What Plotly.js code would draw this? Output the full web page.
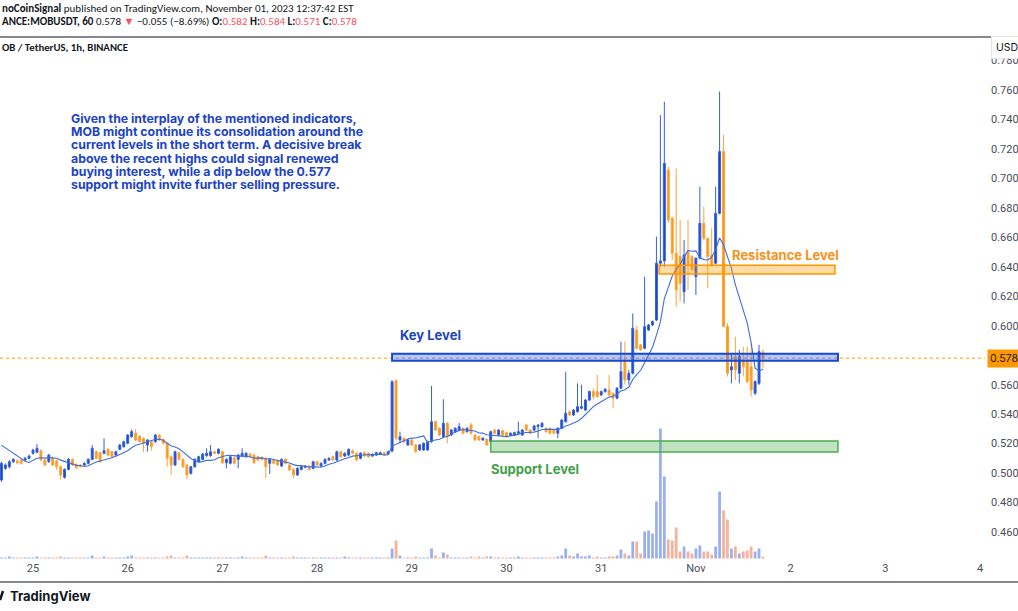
<!DOCTYPE html>
<html><head><meta charset="utf-8">
<script src="https://cdn.plot.ly/plotly-3.0.1.min.js"></script>
<style>html,body{margin:0;padding:0;background:#fff;overflow:hidden}#chart{width:1018px;height:611px}</style>
</head><body><div id="chart"></div>
<script>
// ---------------- DATA ----------------
const startTime = '2023-10-24T16:00:00Z'; // first hourly candle (UTC)
const opens = [
.4953,.5032,.5043,.5077,.5084,.5089,.5089,.5100,.5134,.5141,.5152,.5089,.5077,.5100,.5084,.5043,.4971,.5025,.5093,.5059,
.5055,.5055,.5066,.5093,.5145,.5138,.5134,.5161,.5145,.5122,.5161,.5179,.5202,.5247,.5270,.5251,.5236,.5190,.5213,.5213,
.5258,.5229,.5202,.5111,.5055,.5138,.5093,.5055,.4998,.5043,.5077,.5093,.5118,.5118,.5145,.5134,.5145,.5070,.5066,.5104,
.5093,.5116,.5111,.5129,.5122,.5111,.5107,.5100,.5066,.5089,.5084,.5048,.5093,.5055,.5025,.4987,.5025,.5039,.5048,.5032,
.5077,.5048,.5066,.5089,.5111,.5089,.5145,.5116,.5122,.5152,.5134,.5100,.5138,.5134,.5116,.5122,.5129,.5138,.5129,.5150,
.5627,.5225,.5236,.5191,.5225,.5191,.5157,.5157,.5157,.5213,.5349,.5304,.5247,.5338,.5258,.5281,.5292,.5304,.5281,.5326,
.5258,.5247,.5225,.5229,.5213,.5292,.5258,.5288,.5274,.5258,.5258,.5270,.5258,.5326,.5292,.5292,.5315,.5315,.5304,.5304,
.5292,.5270,.5304,.5349,.5417,.5394,.5417,.5440,.5428,.5496,.5553,.5553,.5530,.5553,.5564,.5541,.5508,.5576,.5756,.5632,
.5677,.5971,.5870,.5847,.5971,.6005,.6039,.6424,.6440,.7057,.6729,.6492,.6469,.6231,.6503,.6469,.6333,.6458,.6695,.6593,
.6480,.6424,.6763,.7182,.5994,.5700,.5790,.5677,.5768,.5756,.5722,.5542,.5609,.5820];
const highs = [
.5077,.5066,.5088,.5102,.5093,.5098,.5109,.5125,.5165,.5197,.5161,.5095,.5131,.5113,.5091,.5052,.5032,.5102,.5100,.5066,
.5062,.5073,.5100,.5190,.5154,.5145,.5236,.5170,.5152,.5152,.5197,.5220,.5265,.5297,.5297,.5258,.5242,.5231,.5220,.5265,
.5265,.5236,.5209,.5118,.5152,.5145,.5100,.5062,.5050,.5100,.5118,.5136,.5168,.5190,.5152,.5168,.5152,.5100,.5118,.5111,
.5129,.5168,.5141,.5136,.5129,.5118,.5113,.5107,.5100,.5096,.5091,.5100,.5100,.5062,.5032,.5039,.5050,.5055,.5055,.5084,
.5084,.5073,.5100,.5107,.5118,.5152,.5152,.5141,.5168,.5159,.5141,.5141,.5145,.5141,.5134,.5145,.5145,.5145,.5152,.5630,
.5635,.5281,.5245,.5232,.5232,.5198,.5198,.5209,.5220,.5591,.5356,.5311,.5501,.5345,.5299,.5311,.5340,.5311,.5311,.5340,
.5265,.5254,.5243,.5236,.5288,.5299,.5299,.5295,.5281,.5277,.5281,.5349,.5299,.5333,.5299,.5327,.5333,.5345,.5311,.5311,
.5299,.5311,.5367,.5688,.5424,.5435,.5609,.5600,.5503,.5560,.5575,.5666,.5560,.5576,.5666,.5548,.5583,.5892,.5892,.5700,
.6084,.6000,.5877,.6333,.6012,.6035,.6605,.7430,.7521,.7080,.6740,.7068,.6718,.6582,.6718,.6480,.6465,.6944,.6808,.6600,
.6661,.6944,.7589,.7295,.6017,.5802,.5926,.5836,.5858,.5858,.5881,.5630,.5870,.5840];
const lows = [
.4940,.5021,.5032,.5068,.5062,.5057,.5080,.5093,.5125,.5134,.5082,.5048,.5070,.5048,.5021,.4957,.4962,.5018,.5048,.5030,
.5036,.5048,.5059,.5086,.5093,.5070,.5127,.5113,.5104,.5116,.5154,.5172,.5195,.5240,.5217,.5206,.5145,.5145,.5152,.5206,
.5217,.5195,.5043,.4987,.5048,.5086,.5036,.4957,.4991,.5036,.5070,.5086,.5111,.5111,.5127,.5127,.5062,.5032,.5059,.5059,
.5032,.5109,.5104,.5104,.5062,.5082,.5086,.4964,.4994,.5059,.5048,.5041,.5059,.5014,.4964,.4980,.5018,.5032,.5018,.5025,
.5048,.5041,.5059,.5082,.5082,.5082,.5104,.5109,.5116,.5127,.5082,.5093,.5109,.5104,.5109,.5116,.5122,.5116,.5122,.5140,
.5220,.5202,.5200,.5184,.5184,.5138,.5150,.5150,.5150,.5206,.5285,.5251,.5240,.5202,.5251,.5274,.5285,.5263,.5274,.5263,
.5218,.5218,.5218,.5184,.5206,.5263,.5251,.5251,.5240,.5251,.5251,.5263,.5251,.5285,.5263,.5285,.5236,.5308,.5274,.5263,
.5263,.5236,.5297,.5342,.5387,.5387,.5410,.5433,.5421,.5489,.5500,.5512,.5523,.5546,.5523,.5440,.5501,.5569,.5600,.5600,
.5670,.5840,.5829,.5840,.5964,.5998,.6032,.6400,.6400,.6700,.6446,.6130,.6164,.6152,.6243,.6370,.6209,.6451,.6580,.6254,
.6400,.6417,.6756,.5990,.5655,.5609,.5632,.5609,.5655,.5609,.5519,.5530,.5598,.5710];
const closes = [
.5066,.5055,.5077,.5093,.5070,.5066,.5100,.5116,.5156,.5168,.5089,.5055,.5122,.5055,.5043,.4987,.5025,.5093,.5055,.5037,
.5043,.5066,.5093,.5168,.5100,.5077,.5152,.5122,.5111,.5145,.5190,.5213,.5258,.5281,.5224,.5213,.5202,.5224,.5179,.5258,
.5224,.5202,.5100,.5055,.5145,.5093,.5043,.4987,.5043,.5093,.5111,.5129,.5134,.5145,.5134,.5161,.5070,.5093,.5111,.5066,
.5122,.5134,.5134,.5111,.5070,.5089,.5093,.5043,.5093,.5066,.5055,.5093,.5066,.5021,.4987,.5032,.5043,.5048,.5025,.5077,
.5055,.5066,.5093,.5100,.5089,.5145,.5111,.5134,.5161,.5134,.5089,.5134,.5116,.5111,.5127,.5138,.5138,.5122,.5145,.5620,
.5236,.5247,.5213,.5225,.5191,.5145,.5191,.5202,.5213,.5349,.5292,.5258,.5338,.5247,.5292,.5304,.5315,.5270,.5304,.5270,
.5225,.5225,.5236,.5191,.5281,.5270,.5292,.5258,.5247,.5270,.5274,.5281,.5292,.5292,.5270,.5320,.5326,.5338,.5281,.5270,
.5270,.5304,.5360,.5406,.5394,.5428,.5451,.5451,.5496,.5553,.5519,.5519,.5553,.5569,.5530,.5508,.5576,.5689,.5632,.5677,
.5983,.5847,.5836,.5994,.6005,.6028,.6424,.6440,.7102,.6718,.6492,.6243,.6288,.6480,.6412,.6379,.6458,.6695,.6593,.6469,
.6412,.6763,.7182,.5994,.5677,.5722,.5700,.5790,.5722,.5621,.5564,.5621,.5824,.5780];
// volume, thousands of MOB
const volumes = [
10,10,20,10,10,10,10,10,10,20,10,10,10,10,10,20,10,10,10,10,
10,10,10,30,10,10,20,10,10,10,10,10,20,30,10,10,10,10,10,10,
10,10,20,30,10,10,10,30,10,10,10,10,10,10,10,10,10,10,10,10,
10,20,10,10,10,10,10,30,10,10,10,10,10,10,20,10,10,10,10,10,
10,10,10,10,10,10,10,20,10,10,10,10,10,10,10,10,10,10,10,100,
180,30,10,10,10,20,10,10,10,100,30,10,60,40,10,10,10,10,10,20,
10,20,10,20,20,10,10,10,10,10,10,20,10,10,10,10,10,10,10,10,
10,20,30,100,30,20,50,20,20,30,10,20,10,10,20,20,30,90,50,30,
170,170,50,270,280,250,570,1300,820,190,180,310,70,120,70,50,100,130,70,70,
40,120,670,480,390,100,120,50,70,80,120,70,100,20];
const maLead = [.5190,.5172,.5152,.5133,.5115,.5097,.5080,.5072];
const maPeriod = 9;
const dayTickDates = ['2023-10-25','2023-10-26','2023-10-27','2023-10-28','2023-10-29','2023-10-30','2023-10-31','2023-11-01','2023-11-02','2023-11-03','2023-11-04'];
const dayTickLabels = ['25','26','27','28','29','30','31','Nov','2','3','4'];
const priceTicks = [0.46,0.48,0.50,0.52,0.54,0.56,0.60,0.62,0.64,0.66,0.68,0.70,0.72,0.74,0.76,0.78];
const keyLevel = [0.5762, 0.5810];
const keyLevelSpan = ['2023-10-28 19:00', '2023-11-02 12:00'];
const resistanceLevel = [0.6352, 0.6410];
const resistanceSpan = ['2023-10-31 14:40', '2023-11-02 11:15'];
const supportLevel = [0.5143, 0.5218];
const supportSpan = ['2023-10-29 20:00', '2023-11-02 12:00'];
const lastPrice = 0.578;
const noteLines = [
 'Given the interplay of the mentioned indicators,',
 'MOB might continue its consolidation around the',
 'current levels in the short term. A decisive break',
 'above the recent highs could signal renewed',
 'buying interest, while a dip below the 0.577',
 'support might invite further selling pressure.'
];

// ---------------- BUILD ----------------
const t0 = Date.parse(startTime);
function fmt(ms){const d=new Date(ms);const p=n=>String(n).padStart(2,'0');
 return d.getUTCFullYear()+'-'+p(d.getUTCMonth()+1)+'-'+p(d.getUTCDate())+' '+p(d.getUTCHours())+':'+p(d.getUTCMinutes());}
const times = closes.map((_,i)=>fmt(t0+i*3600000));
const ma = closes.map((c,i)=>{
  if(i < maPeriod-1) return maLead[i];
  let s=0; for(let k=i-maPeriod+1;k<=i;k++) s+=closes[k]; return s/maPeriod;
});
const UP='#1848cc', DOWN='#ff9800';
const volColors = closes.map((c,i)=> c>=opens[i] ? 'rgba(88,128,232,0.62)' : 'rgba(242,128,90,0.62)');

// pixel helpers for plot area: x 0..985, y 38..560
const PL=0, PR=985, PT=38, PB=560;
const px = v => (v-PL)/(PR-PL);
const py = v => (PB-v)/(PB-PT);

const traces = [
 {type:'bar', x:times, y:volumes, yaxis:'y2', marker:{color:volColors, line:{width:0}}, hoverinfo:'skip'},
 {type:'candlestick', x:times, open:opens, high:highs, low:lows, close:closes,
  increasing:{line:{color:'#3560d8', width:1}, fillcolor:UP},
  decreasing:{line:{color:'#fba23c', width:1}, fillcolor:DOWN},
  whiskerwidth:0, hoverinfo:'skip'},
 {type:'scatter', mode:'lines', x:times, y:ma, line:{color:'#3f6fdc', width:1.1}, hoverinfo:'skip'}
];

const FONT_HDR = "Carlito, 'Liberation Sans Narrow', 'Liberation Sans', sans-serif";
const FONT_UI = "Inter, Roboto, 'Noto Sans', sans-serif";
const RED = '#f7525f';

const annotations = [
 {xref:'paper', yref:'paper', x:px(0), y:py(9), xanchor:'left', yanchor:'middle', showarrow:false,
  text:'<b>noCoinSignal</b> published on TradingView.com, November 01, 2023 12:37:42 EST',
  font:{family:FONT_HDR, size:11, color:'#131722'}},
 {xref:'paper', yref:'paper', x:px(0), y:py(22), xanchor:'left', yanchor:'middle', showarrow:false,
  text:'<b>ANCE:MOBUSDT, 60</b> 0.578 <span style="color:'+RED+'">▼</span> −0.055 (−8.69%) <b>O:</b><span style="color:'+RED+'">0.582</span> <b>H:</b><span style="color:'+RED+'">0.584</span> <b>L:</b><span style="color:'+RED+'">0.571</span> <b>C:</b><span style="color:'+RED+'">0.578</span>',
  font:{family:FONT_HDR, size:11, color:'#131722'}},
 {xref:'paper', yref:'paper', x:px(0), y:py(47), xanchor:'left', yanchor:'middle', showarrow:false,
  text:'<b>OB / TetherUS, 1h, BINANCE</b>', font:{family:FONT_HDR, size:10.8, color:'#131722'}},
 {xref:'paper', yref:'paper', x:px(1007), y:py(47), xanchor:'center', yanchor:'middle', showarrow:false,
  text:'USD', font:{family:FONT_UI, size:10.5, color:'#131722'}, bgcolor:'#ffffff', bordercolor:'#e0e3eb', borderwidth:1, borderpad:4},
 {xref:'paper', yref:'y', x:px(987), y:lastPrice, xanchor:'left', yanchor:'middle', showarrow:false,
  text:lastPrice.toFixed(3), font:{family:FONT_UI, size:10.5, color:'#131722'}, bgcolor:'#ff9800', borderpad:2},
 {xref:'paper', yref:'paper', x:px(430), y:py(335), xanchor:'center', yanchor:'middle', showarrow:false,
  text:'<b>Key Level</b>', font:{family:FONT_UI, size:13, color:'#1c45b8'}},
 {xref:'paper', yref:'paper', x:px(785), y:py(255), xanchor:'center', yanchor:'middle', showarrow:false,
  text:'<b>Resistance Level</b>', font:{family:FONT_UI, size:13, color:'#f7931a'}},
 {xref:'paper', yref:'paper', x:px(535), y:py(469), xanchor:'center', yanchor:'middle', showarrow:false,
  text:'<b>Support Level</b>', font:{family:FONT_UI, size:13, color:'#43a047'}},
 {xref:'paper', yref:'paper', x:px(8), y:py(596), xanchor:'left', yanchor:'middle', showarrow:false,
  text:'<b>TradingView</b>', font:{family:FONT_UI, size:13, color:'#131722'}}
];
const lineY = [118.5,131.7,144.9,158.1,171.3,184.5];
noteLines.forEach((t,i)=>annotations.push({xref:'paper', yref:'paper', x:px(69), y:py(lineY[i]), xanchor:'left', yanchor:'middle', showarrow:false,
  text:'<b>'+t+'</b>', font:{family:FONT_UI, size:12.3, color:'#1c44c4'}}));

const shapes = [
 {type:'line', xref:'paper', yref:'paper', x0:-0.01, x1:1.04, y0:py(37), y1:py(37), line:{color:'#5d606b', width:1.5}},
 {type:'line', xref:'paper', yref:'paper', x0:-0.01, x1:1.04, y0:py(582), y1:py(582), line:{color:'#5d606b', width:1.5}},
 {type:'line', xref:'paper', yref:'y', x0:0, x1:1, y0:lastPrice, y1:lastPrice, line:{color:'#ff9800', width:1, dash:'dot'}},
 {type:'rect', xref:'x', yref:'y', x0:keyLevelSpan[0], x1:keyLevelSpan[1], y0:keyLevel[0], y1:keyLevel[1],
  fillcolor:'rgba(41,98,255,0.35)', line:{color:'#1848cc', width:2}},
 {type:'rect', xref:'x', yref:'y', x0:resistanceSpan[0], x1:resistanceSpan[1], y0:resistanceLevel[0], y1:resistanceLevel[1],
  fillcolor:'rgba(255,152,0,0.35)', line:{color:'#ff9800', width:1.5}},
 {type:'rect', xref:'x', yref:'y', x0:supportSpan[0], x1:supportSpan[1], y0:supportLevel[0], y1:supportLevel[1],
  fillcolor:'rgba(76,175,80,0.35)', line:{color:'#4caf50', width:1.5}},
 {type:'path', xref:'paper', yref:'paper', path:'M '+px(0)+' '+py(600)+' L '+px(3)+' '+py(591), line:{color:'#131722', width:2.5}}
];

const layout = {
 width:1018, height:611, margin:{l:0, r:33, t:38, b:51, pad:0},
 paper_bgcolor:'#ffffff', plot_bgcolor:'#ffffff', showlegend:false,
 font:{family:FONT_UI, size:11, color:'#131722'},
 bargap:0.3, dragmode:false, hovermode:false,
 xaxis:{type:'date', range:['2023-10-24 15:38','2023-11-04 01:16'], rangeslider:{visible:false},
  tickvals:dayTickDates, ticktext:dayTickLabels, showgrid:false, zeroline:false, showline:false, ticks:'',
  tickfont:{family:"Roboto, 'Liberation Sans', sans-serif", size:11, color:'#4a4e59'}, fixedrange:true},
 yaxis:{side:'right', range:[0.4410, 0.7953], tickmode:'array', tickvals:priceTicks, tickformat:'.3f', showgrid:false, zeroline:false,
  showline:false, ticks:'', ticklabelstandoff:5,
  tickfont:{family:"Roboto, 'Liberation Sans', sans-serif", size:11, color:'#4a4e59'}, fixedrange:true},
 yaxis2:{overlaying:'y', range:[-15, 5205], visible:false, fixedrange:true},
 shapes:shapes, annotations:annotations
};
Plotly.newPlot('chart', traces, layout, {staticPlot:true, displayModeBar:false});
</script></body></html>
